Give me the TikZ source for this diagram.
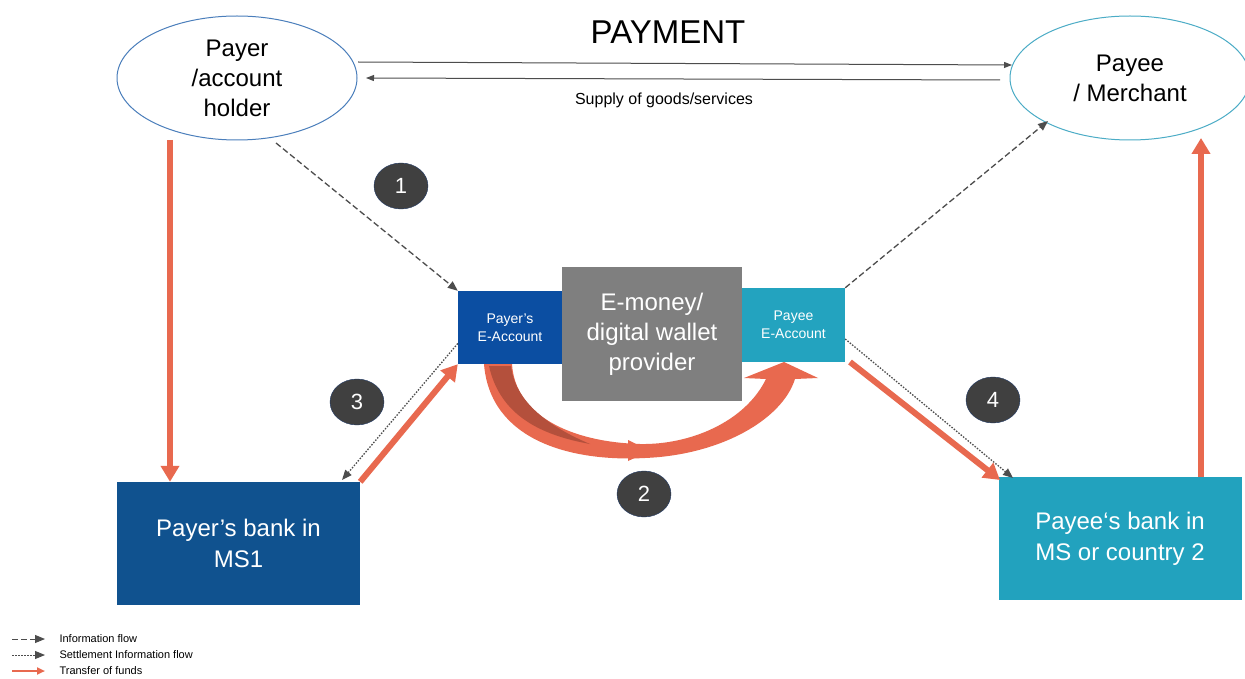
\documentclass[tikz,border=0pt]{standalone}
\usepackage{fontspec}
\setmainfont{Liberation Sans}
\usetikzlibrary{shapes.geometric, arrows.meta, positioning}
\definecolor{payerblue}{HTML}{4A7EBB}
\definecolor{payeecyan}{HTML}{4BACC6}
\definecolor{eaccblue}{HTML}{0B4EA2}
\definecolor{eaccteal}{HTML}{23A3BF}
\definecolor{bankblue}{HTML}{10528F}
\definecolor{bankteal}{HTML}{22A2BE}
\definecolor{walletgray}{HTML}{7F7F7F}
\definecolor{numgray}{HTML}{404040}
\definecolor{numrim}{HTML}{1F3864}
\definecolor{flowgray}{HTML}{4D4D4D}
\definecolor{funds}{HTML}{E8694F}
\definecolor{fundsdark}{HTML}{B4503C}
\tikzset{
    party/.style={ellipse, draw, line width=1pt, minimum width=240pt, minimum height=124pt, align=center, font=\fontsize{24}{30}\selectfont},
    eacc/.style={rectangle, text=white, align=center, inner sep=0pt, font=\fontsize{14}{18}\selectfont},
    bank/.style={rectangle, text=white, align=center, inner sep=0pt, minimum width=243pt, minimum height=123pt, font=\fontsize{24}{31}\selectfont},
    stepnum/.style={ellipse, fill=numgray, draw=numrim, thin, minimum width=54pt, minimum height=46pt, inner sep=0pt, text=white, font=\fontsize{22}{24}\selectfont},
    info/.style={flowgray, line width=1.3pt, dash pattern=on 6pt off 3pt, -{Triangle[length=10pt, width=8pt]}},
    settle/.style={flowgray, line width=1.3pt, dash pattern=on 1.5pt off 1.5pt, -{Triangle[length=10pt, width=8pt]}},
    transfer/.style={funds, line width=6pt, -{Triangle[length=16pt, width=18pt]}},
    payment/.style={flowgray, line width=1pt, -{Triangle[length=8pt, width=6pt]}},
    legend/.style={anchor=west, font=\fontsize{11}{12}\selectfont},
}

\begin{document}
\begin{tikzpicture}[x=1pt, y=-1pt]
  \useasboundingbox[fill=white] (0,0) rectangle (1245,679);

  % parties
  \node[party, draw=payerblue]  (payer) at (237,78)  {Payer\\/account\\holder};
  \node[party, draw=payeecyan]  (payee) at (1130,78) {Payee\\/ Merchant};
  \node[font=\fontsize{33}{36}\selectfont] (pay) at (668,32) {PAYMENT};
  \node[font=\fontsize{16}{18}\selectfont] (supply) at (664,100) {Supply of goods/services};

  % provider and accounts
  \node[rectangle, fill=walletgray, text=white, align=center, minimum width=180pt, minimum height=134pt,
        font=\fontsize{24}{30}\selectfont] (wallet) at (652,334) {E-money/\\digital wallet\\provider};
  \node[eacc, fill=eaccblue, minimum width=104pt, minimum height=73pt] (payeracc) at (510,327.5) {Payer's\\E-Account};
  \node[eacc, fill=eaccteal, minimum width=103pt, minimum height=74pt] (payeeacc) at (793.5,325) {Payee\\E-Account};

  % banks
  \node[bank, fill=bankblue] (payerbank) at (238.5,543.5) {Payer's bank in\\MS1};
  \node[bank, fill=bankteal] (payeebank) at (1120,538.5) {Payee\symbol{96}s bank in\\MS or country 2};

  % steps
  \node[stepnum] (s1) at (401,186) {1};
  \node[stepnum] (s2) at (644,494) {2};
  \node[stepnum] (s3) at (357,402) {3};
  \node[stepnum] (s4) at (993,400) {4};

  % payment and supply
  \coordinate (p1) at (358,62);   \coordinate (q1) at (1012,65);
  \coordinate (p2) at (1000,80);  \coordinate (q2) at (366,78);
  \draw[payment] (p1) -- (q1);
  \draw[payment] (p2) -- (q2);

  % information flow
  \draw[info] (276,143) -- (payeracc.north west);
  \draw[info] (payeeacc.north east) -- (1048,121);

  % settlement information
  \draw[settle] (payeracc.west) ++(0,16) -- (342,480);
  \draw[settle] (payeeacc.east) ++(0,14) -- (1013,478);

  % transfer of funds
  \draw[transfer] (170,140) -- (payerbank.north -| 170,0);
  \draw[transfer] (payerbank.north east) -- (payeracc.south west);
  \draw[transfer] (850,362) -- (1000,480);
  \draw[transfer] (payeebank.north -| 1201,0) -- (1201,138);

  % curved transfer between accounts
  \fill[funds] (484,364) .. controls (490,440) and (570,462) .. (645,458)
        .. controls (720,455) and (782,420) .. (795,379)
        -- (818,378) -- (784,362) -- (744,378) -- (766,379)
        .. controls (745,422) and (690,445) .. (640,444)
        .. controls (570,442) and (515,415) .. (512,364) -- cycle;
  \fill[fundsdark] (489,366) .. controls (500,415) and (540,435) .. (590,444)
        .. controls (545,425) and (515,400) .. (511,366) -- cycle;
  \fill[funds] (628,440) -- (650,451) -- (628,461) -- cycle;

  % legend
  \draw[info, line width=1pt] (12,639) -- (45,639);
  \node[legend] (lg1) at (56,639) {Information flow};
  \draw[settle, line width=1pt] (12,655) -- (45,655);
  \node[legend] (lg2) at (56,655) {Settlement Information flow};
  \draw[funds, line width=2pt, -{Triangle[length=8pt, width=7pt]}] (12,671) -- (45,671);
  \node[legend] (lg3) at (56,671) {Transfer of funds};
\end{tikzpicture}
\end{document}
